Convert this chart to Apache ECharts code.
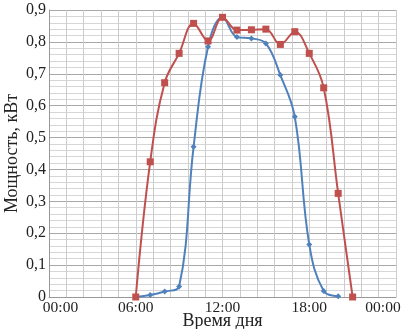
<!DOCTYPE html>
<html>
<head>
<meta charset="utf-8">
<script src="https://cdn.jsdelivr.net/npm/echarts@6/dist/echarts.min.js"></script>
<style>
html,body{margin:0;padding:0;background:#fff;}
#c{width:406px;height:329px;}
</style>
</head>
<body>
<div id="c"></div>
<script>
// Hours of day
const hoursRed = [6,7,8,9,10,11,12,13,14,15,16,17,18,19,20,21];
const powerRed = [0,0.424,0.672,0.764,0.858,0.803,0.877,0.837,0.838,0.840,0.792,0.832,0.764,0.656,0.325,0];
const hoursBlue = [6,7,8,9,10,11,12,13,14,15,16,17,18,19,20];
const powerBlue = [0,0.006,0.017,0.033,0.471,0.785,0.877,0.815,0.811,0.795,0.696,0.565,0.165,0.019,0.002];
const xTickLabels = ['00:00','06:00','12:00','18:00','00:00'];
const yTitle = 'Мощность, кВт';
const xTitle = 'Время дня';

const font = 'Liberation Serif';
const chart = echarts.init(document.getElementById('c'), null, {renderer:'canvas'});

function pairs(xs, ys){ return xs.map((x,i)=>[x, ys[i]]); }

chart.setOption({
  animation:false,
  backgroundColor:'#ffffff',
  grid:{left:49,right:10,top:10,bottom:32,containLabel:false,outerBoundsMode:'none'},
  xAxis:{
    type:'value',min:0,max:24,interval:1.2,
    name:xTitle,nameLocation:'middle',nameGap:15,nameMoveOverlap:false,
    nameTextStyle:{fontFamily:font,fontSize:18,color:'#222',verticalAlign:'top'},
    axisLine:{show:true,lineStyle:{color:'#999',width:1}},
    axisTick:{show:false},
    axisLabel:{
      margin:3,fontFamily:font,fontSize:15.5,color:'#222',
      showMinLabel:true,showMaxLabel:true,
      formatter:function(v){
        const i=Math.round(v/6);
        if(Math.abs(v-i*6)>1e-6) return '';
        const t=xTickLabels[i];
        if(i===0) return '{l|'+t+'}';
        if(i===4) return '{r|'+t+'}';
        return t;
      },
      rich:{
        l:{fontFamily:font,fontSize:15.5,color:'#222',padding:[0,0,0,23]},
        r:{fontFamily:font,fontSize:15.5,color:'#222',padding:[0,26,0,0]}
      }
    },
    splitLine:{show:true,lineStyle:{color:'#cccccc',width:1}}
  },
  yAxis:{
    type:'value',min:0,max:0.9,interval:0.1,
    name:yTitle,nameLocation:'middle',nameGap:28,nameRotate:90,nameMoveOverlap:false,
    nameTextStyle:{fontFamily:font,fontSize:18,color:'#222'},
    axisLine:{show:true,lineStyle:{color:'#999',width:1}},
    axisTick:{show:false},
    axisLabel:{
      margin:3,fontFamily:font,fontSize:16,color:'#222',
      formatter:function(v){ return v===0?'0':v.toFixed(1).replace('.',','); }
    },
    splitLine:{show:true,lineStyle:{color:'#a8a8a8',width:1}},
    minorTick:{show:false,splitNumber:5},
    minorSplitLine:{show:true,lineStyle:{color:'#d6d6d6',width:1}}
  },
  series:[
    {
      type:'line',data:pairs(hoursBlue,powerBlue),smooth:0.4,
      symbol:'diamond',symbolSize:6,
      lineStyle:{color:'#4f81bd',width:2},
      itemStyle:{color:'#4f81bd'}
    },
    {
      type:'line',data:pairs(hoursRed,powerRed),smooth:0.4,
      symbol:'rect',symbolSize:7,
      lineStyle:{color:'#c0504d',width:2},
      itemStyle:{color:'#c0504d'}
    }
  ]
});
</script>
</body>
</html>
